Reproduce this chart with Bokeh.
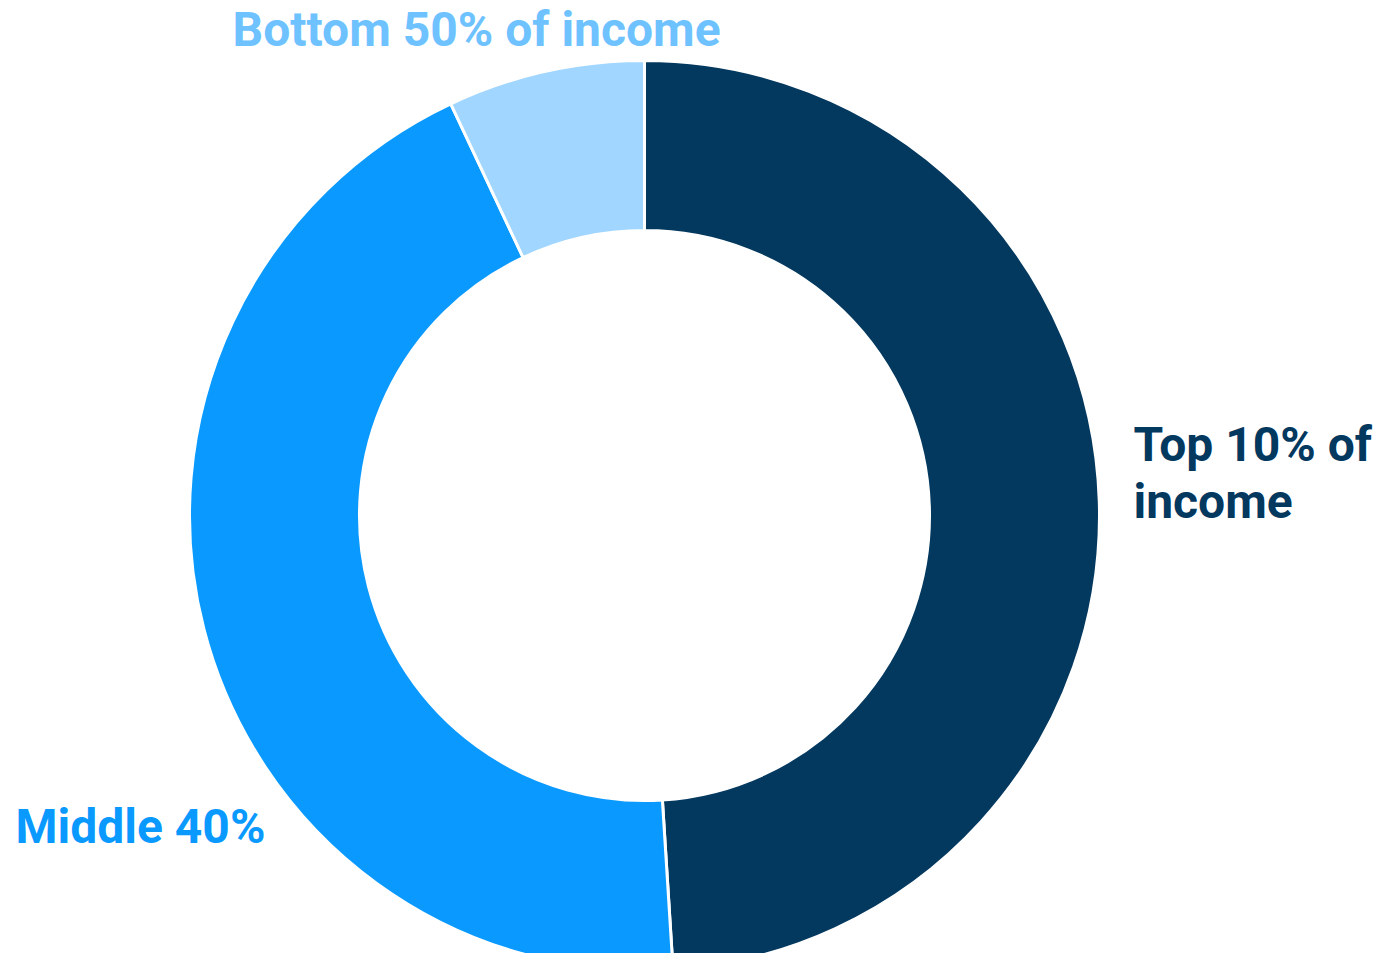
import math
from bokeh.plotting import figure
from bokeh.models import Range1d, ColumnDataSource
from bokeh.core.properties import value
from bokeh.embed import file_html
from bokeh.resources import INLINE

# ---- data ----
categories = ["Top 10% of income", "Middle 40%", "Bottom 50% of income"]
shares = [49.0, 44.0, 7.0]
slice_colors = ["#03385F", "#0A9AFF", "#A0D6FF"]
label_lines = [["Top 10% of", "income"], ["Middle 40%"], ["Bottom 50% of income"]]
label_colors = ["#03385F", "#0A9AFF", "#6EC2FF"]

W, H = 1379, 953
p = figure(width=W, height=H, output_backend="svg", toolbar_location=None,
           x_range=Range1d(0, W), y_range=Range1d(0, H), min_border=0)
p.axis.visible = False
p.grid.visible = False
p.outline_line_color = None
p.background_fill_color = "white"

cx, cy = 644, 438
r_out, r_in = 455, 285

total = sum(shares)
starts, ends = [], []
cum = 0.0
for s in shares:
    starts.append(math.pi / 2 - 2 * math.pi * cum / total)
    cum += s
    ends.append(math.pi / 2 - 2 * math.pi * cum / total)

src = ColumnDataSource(dict(start=starts, end=ends, color=slice_colors, name=categories))
p.annular_wedge(x=cx, y=cy, inner_radius=r_in, outer_radius=r_out,
                start_angle="start", end_angle="end", direction="clock",
                fill_color="color", line_color="white", line_width=3, source=src)

# label anchors (first-line position) and line spacing
anchor_x = [1133, 15, 232]
anchor_y = [509, 127, 924]
line_step = 57
xs, ys, texts, cols = [], [], [], []
for lines, ax, ay, c in zip(label_lines, anchor_x, anchor_y, label_colors):
    for i, t in enumerate(lines):
        xs.append(ax)
        ys.append(ay - i * line_step)
        texts.append(t)
        cols.append(c)
lsrc = ColumnDataSource(dict(x=xs, y=ys, text=texts, color=cols))
p.text(x="x", y="y", text="text", text_color="color", source=lsrc,
       text_font=value("Roboto"), text_font_style="bold", text_font_size="48px",
       text_baseline="alphabetic", text_align="left")

open("out.html", "w").write(file_html(p, INLINE))
